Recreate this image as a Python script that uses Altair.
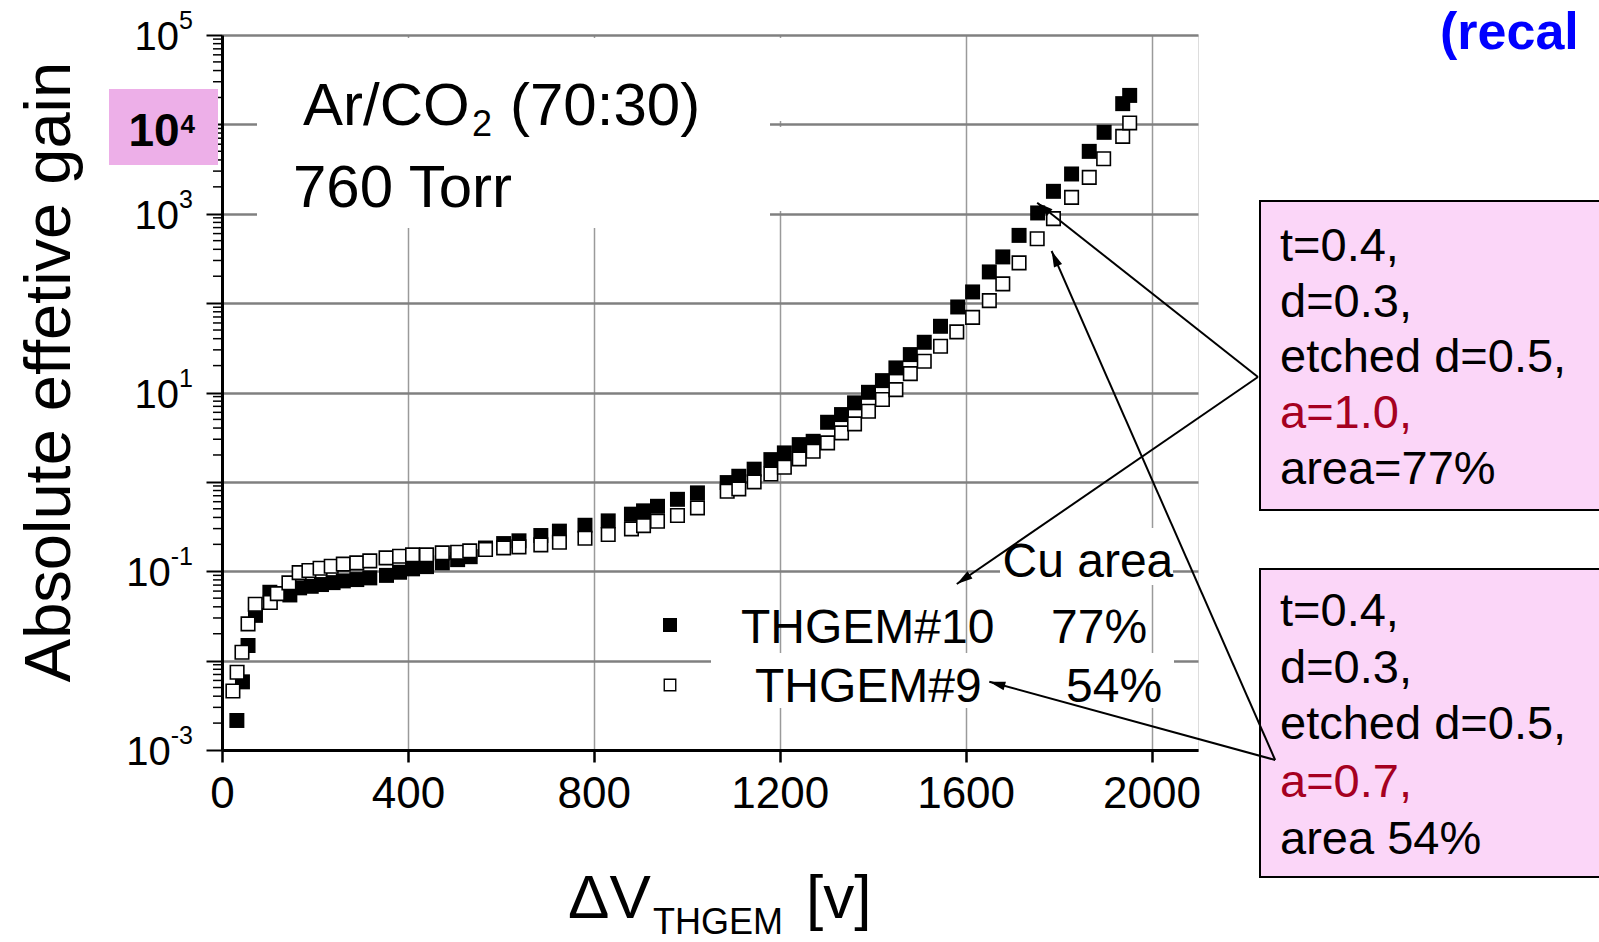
import math
import altair as alt
import pandas as pd

# ---------------- data ----------------
v_thgem10 = [32, 44, 56, 72, 103, 146, 167, 192, 214, 239, 261, 290, 318, 354, 382, 410, 440,
             474, 507, 534, 567, 606, 639, 686, 726, 781, 831, 881, 907, 937, 980, 1023, 1087,
             1112, 1145, 1181, 1210, 1242, 1272, 1303, 1333, 1361, 1391, 1421, 1450, 1481, 1511,
             1546, 1583, 1615, 1651, 1680, 1715, 1755, 1789, 1828, 1866, 1898, 1938, 1953]
gain_thgem10 = [0.00214, 0.00579, 0.01476, 0.0321, 0.0582, 0.0543, 0.0652, 0.0679, 0.0710,
                0.0746, 0.0780, 0.0807, 0.0843, 0.0899, 0.0975, 0.1064, 0.1127, 0.1242, 0.1349,
                0.1455, 0.182, 0.204, 0.219, 0.251, 0.281, 0.327, 0.366, 0.435, 0.474, 0.533,
                0.638, 0.753, 0.982, 1.156, 1.387, 1.774, 2.109, 2.612, 2.844, 4.645, 5.662,
                7.656, 10.05, 13.58, 18.84, 26.55, 36.48, 55.08, 90.57, 133.4, 223.4, 328.9,
                572.8, 1021, 1782, 2786, 4989, 8147, 17060, 21090]

v_thgem9 = [23.5, 32.5, 43, 56, 71.5, 104, 119, 144, 166, 187, 211, 235, 261, 290, 318, 353,
            382, 410, 440, 474, 507, 533, 567, 606, 639, 686, 726, 781, 831, 881, 907, 937, 980,
            1023, 1087, 1112, 1145, 1181, 1210, 1242, 1272, 1303, 1333, 1361, 1391, 1421, 1450,
            1481, 1511, 1546, 1581, 1615, 1651, 1680, 1715, 1754, 1789, 1828, 1866, 1897, 1938,
            1953]
gain_thgem9 = [0.00457, 0.00741, 0.01242, 0.02576, 0.04266, 0.04467, 0.05623, 0.07413, 0.0966,
               0.1019, 0.1081, 0.1138, 0.1202, 0.1242, 0.1306, 0.1413, 0.1472, 0.1524, 0.1524,
               0.1607, 0.1633, 0.1690, 0.1750, 0.1828, 0.1875, 0.1972, 0.2113, 0.2339, 0.2576,
               0.2979, 0.3243, 0.3631, 0.4198, 0.5117, 0.7852, 0.8356, 1.0, 1.227, 1.455, 1.807,
               2.198, 2.729, 3.532, 4.457, 6.166, 8.337, 10.76, 16.26, 22.34, 32.89, 47.64,
               69.34, 106.7, 164.1, 281.8, 526.0, 881.0, 1524, 2553, 4130, 7345, 10380]

x_ticks = [0, 400, 800, 1200, 1600, 2000]
y_decades = [1e-3, 1e-2, 1e-1, 1e0, 1e1, 1e2, 1e3, 1e4, 1e5]
y_minor = [m * 10.0 ** k for k in range(-3, 5) for m in range(2, 10)]
y_label_values = [1e5, 1e3, 1e1, 1e-1, 1e-3]
y_label_exps = ["5", "3", "1", "-1", "-3"]

# arrows: start (annotation box) -> tip (in data units)
arrow_start_v = [2229, 2229, 2266, 2266]
arrow_start_g = [14.9, 14.9, 7.73e-4, 7.73e-4]
arrow_tip_v = [1754, 1581, 1785, 1651]
arrow_tip_g = [1330, 0.0720, 383, 0.00581]

box1_lines = ["t=0.4,", "d=0.3,", "etched d=0.5,", "a=1.0,", "area=77%"]
box2_lines = ["t=0.4,", "d=0.3,", "etched d=0.5,", "a=0.7,", "area 54%"]

# ---------------- layout ----------------
FONT = "Liberation Sans"
W, H = 976, 715
X_MAX = 2100
LOG_MIN, LOG_MAX = -3, 5
RED = "#A50021"

xscale = alt.Scale(domain=[0, X_MAX], nice=False, zero=False)
yscale = alt.Scale(type="log", domain=[1e-3, 1e5], nice=False)

x_axis = alt.Axis(values=x_ticks, grid=True, gridColor="#9a9a9a", gridWidth=1.5,
                  ticks=True, tickSize=12, tickWidth=2.5, tickColor="black",
                  domain=True, domainColor="black", domainWidth=3,
                  labelFontSize=44, labelColor="black", labelFont=FONT, labelPadding=10,
                  labelFlush=False, labelOverlap=False, format="d", title=None)
y_axis = alt.Axis(values=y_decades, grid=True, gridColor="#808080", gridWidth=2.5,
                  ticks=True, tickSize=16, tickWidth=2, tickColor="black",
                  domain=True, domainColor="black", domainWidth=3,
                  labels=False, title=None)


def X(field="V"):
    return alt.X(f"{field}:Q", scale=xscale, axis=x_axis)


def Y(field="gain"):
    return alt.Y(f"{field}:Q", scale=yscale, axis=y_axis)


dummy = pd.DataFrame({"d": [0]})


def txt(s, x, y, size, color="black", align="left", baseline="alphabetic", weight="normal", angle=0):
    kw = dict(text=s, fontSize=size, font=FONT, color=color, align=align,
              baseline=baseline, fontWeight=weight)
    if angle:
        kw["angle"] = angle
    return alt.Chart(dummy).mark_text(**kw).encode(x=alt.value(x), y=alt.value(y))


def box(x1, x2, y1, y2, fill="white", stroke=None, sw=0):
    kw = dict(fill=fill, opacity=1)
    if stroke:
        kw.update(stroke=stroke, strokeWidth=sw)
    return alt.Chart(dummy).mark_rect(**kw).encode(
        x=alt.value(x1), x2=alt.value(x2), y=alt.value(y1), y2=alt.value(y2))


df10 = pd.DataFrame({"V": v_thgem10, "gain": gain_thgem10})
df9 = pd.DataFrame({"V": v_thgem9, "gain": gain_thgem9})


def px(v):
    return v / X_MAX * W


def py(g):
    return (LOG_MAX - math.log10(g)) / (LOG_MAX - LOG_MIN) * H


angles = []
for sv, sg, tv, tg in zip(arrow_start_v, arrow_start_g, arrow_tip_v, arrow_tip_g):
    dx = px(tv) - px(sv)
    dy = py(tg) - py(sg)
    angles.append(math.degrees(math.atan2(dx, -dy)) % 360)

df_arrows = pd.DataFrame({"V": arrow_start_v, "gain": arrow_start_g,
                          "V2": arrow_tip_v, "gain2": arrow_tip_g})
df_heads = pd.DataFrame({"V": arrow_tip_v, "gain": arrow_tip_g, "ang": angles})

layers = []

# white boxes behind the annotation texts (hide gridlines)
layers.append(box(35, 548, 3, 193))
layers.append(box(555, 561, 3, 86))
layers.append(box(555, 561, 92, 176))
layers.append(box(778, 951, 493, 550))
layers.append(box(489, 952, 618, 673))

# minor ticks on log axis
layers.append(alt.Chart(pd.DataFrame({"gain": y_minor})).mark_rule(
    color="black", strokeWidth=1.5).encode(y=Y(), x=alt.value(0), x2=alt.value(-9)))

# data
layers.append(alt.Chart(df10).mark_point(shape="square", filled=True, color="black",
                                         size=225, opacity=1).encode(x=X(), y=Y()))
layers.append(alt.Chart(df9).mark_point(shape="square", filled=True, fill="white",
                                        stroke="black", strokeWidth=1.6, size=182,
                                        opacity=1).encode(x=X(), y=Y()))

# in-plot texts
layers.append(txt("Ar/CO", 81, 89.5, 60))
layers.append(txt("2", 250, 100.6, 36))
layers.append(txt("(70:30)", 288, 89.5, 60))
layers.append(txt("760 Torr", 71, 172, 60))

# legend
layers.append(txt("Cu area", 780.5, 542, 48))
layers.append(alt.Chart(dummy).mark_point(shape="square", filled=True, color="black",
                                          size=196, opacity=1).encode(x=alt.value(448), y=alt.value(590)))
layers.append(alt.Chart(dummy).mark_point(shape="square", filled=True, fill="white",
                                          stroke="black", strokeWidth=1.4, size=132,
                                          opacity=1).encode(x=alt.value(448), y=alt.value(650)))
layers.append(txt("THGEM#10", 519, 607.5, 48))
layers.append(txt("77%", 829, 607.5, 48))
layers.append(txt("THGEM#9", 533, 666.6, 48))
layers.append(txt("54%", 844, 666.6, 48))

# annotation boxes on the right
layers.append(box(1038, 1500, 166, 475, fill="#FBD6F8", stroke="black", sw=2))
layers.append(box(1038, 1500, 534, 842, fill="#FBD6F8", stroke="black", sw=2))
for i, (s, yy) in enumerate(zip(box1_lines, [212, 268, 323, 379, 435])):
    layers.append(txt(s, 1058, yy, 47, color=RED if i == 3 else "black", baseline="middle"))
for i, (s, yy) in enumerate(zip(box2_lines, [577, 634, 690, 748, 805])):
    layers.append(txt(s, 1058, yy, 47, color=RED if i == 3 else "black", baseline="middle"))

# arrows
layers.append(alt.Chart(df_arrows).mark_rule(color="black", strokeWidth=2).encode(
    x=X(), y=Y(), x2="V2:Q", y2="gain2:Q"))
layers.append(alt.Chart(df_heads).mark_point(shape="M0,0L0.55,2L-0.55,2Z", filled=True,
                                             color="black", size=256, opacity=1).encode(
    x=X(), y=Y(), angle=alt.Angle("ang:Q", scale=None)))

# y tick labels (10 with superscript exponent)
char_w = {"-": 0.333, "1": 0.556, "3": 0.556, "5": 0.556}
for val, ex in zip(y_label_values, y_label_exps):
    ew = sum(char_w[c] for c in ex) * 25
    d1 = pd.DataFrame({"gain": [val]})
    layers.append(alt.Chart(d1).mark_text(text="10", fontSize=40, font=FONT, color="black",
                                          align="right", baseline="middle", dy=3).encode(
        y=Y(), x=alt.value(-29 - ew)))
    layers.append(alt.Chart(d1).mark_text(text=ex, fontSize=25, font=FONT, color="black",
                                          align="right", baseline="alphabetic", dy=-6).encode(
        y=Y(), x=alt.value(-29)))

# highlighted 10^4 label
layers.append(box(-113, -4, 54, 130, fill="#EDAFE8"))
layers.append(txt("10", -93.5, 111, 46, weight="bold"))
layers.append(txt("4", -41.5, 97.6, 26, weight="bold"))

# axis titles
layers.append(txt("Absolute effetive gain", -152.5, 337, 65, align="center", angle=270))
layers.append(txt("\u0394V", 346, 883, 62))
layers.append(txt("THGEM", 431, 899, 36))
layers.append(txt("[v]", 584, 883, 62))

# blue header fragment (cut by the page edge in the reference)
layers.append(txt("(recal", 1218, 14, 52, color="#0000FF", weight="bold"))

chart = alt.layer(*layers).properties(
    width=W, height=H,
    autosize=alt.AutoSizeParams(type="none"),
    padding={"left": 222, "top": 35, "right": 401, "bottom": 192},
    background="white",
).configure_view(stroke="black", strokeWidth=2.5).configure(font=FONT)

chart.save("out.html", embed_options={"renderer": "svg", "actions": False})
